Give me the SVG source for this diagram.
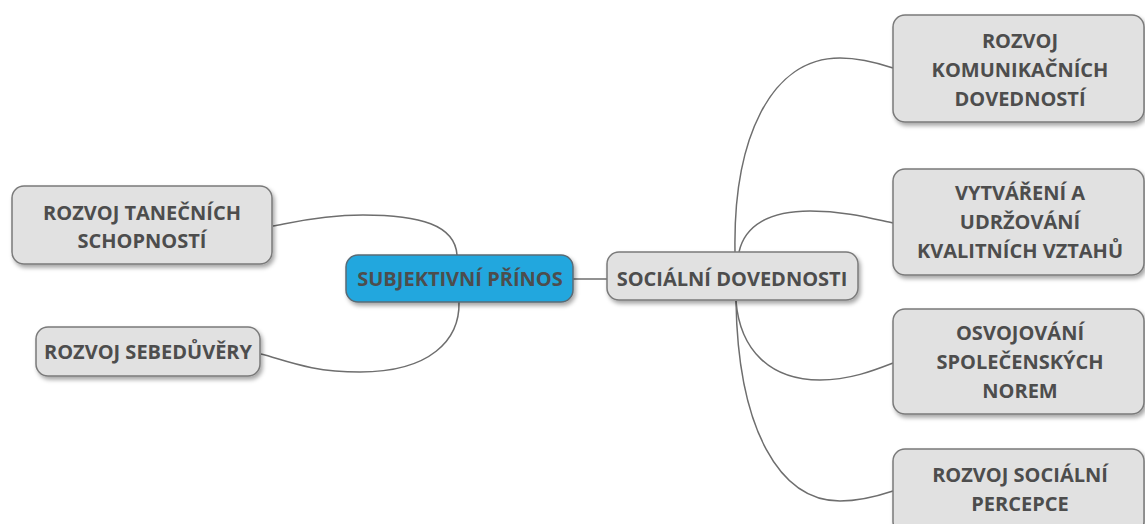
<svg xmlns="http://www.w3.org/2000/svg" width="1145" height="524" viewBox="0 0 1145 524">
<defs>
<filter id="sh" x="-10%" y="-20%" width="130%" height="150%">
<feDropShadow dx="2" dy="3" stdDeviation="2" flood-color="#000" flood-opacity="0.35"/>
</filter>
<style>
.box{fill:#e1e1e1;stroke:#7a7a7a;stroke-width:1.5;filter:url(#sh)}
.main{fill:#22a7de;stroke:#5a6b75;stroke-width:1.5;filter:url(#sh)}
.t{font-family:"Open Sans","Liberation Sans",sans-serif;font-weight:bold;font-size:20px;fill:#4d4d4d;text-anchor:middle}
.c{fill:none;stroke:#6e6e6e;stroke-width:1.5}
</style>
</defs>
<rect width="1145" height="524" fill="#fff"/>
<g id="connectors">
<path class="c" d="M457,255 C455,225 420,215 363,215 C320,215 290,223 273,226"/>
<path class="c" d="M459,302 C460,340 430,372 360,372 C310,372 285,360 261,354"/>
<path class="c" d="M573,279 L607,279"/>
<path class="c" d="M735,252 C733,140 770,58 840,58 C860,58 878,63 893,68"/>
<path class="c" d="M739,252 C745,225 770,211 810,211 C845,211 870,218 893,223"/>
<path class="c" d="M736,301 C740,350 770,380 820,380 C850,380 875,370 893,363"/>
<path class="c" d="M736,301 C738,430 780,501 840,501 C860,501 878,496 893,491"/>
</g>
<g id="n-tanec">
<rect class="box" x="12" y="186" width="260" height="78" rx="12"/>
<text class="t" x="142" y="220">ROZVOJ TANEČNÍCH</text>
<text class="t" x="142" y="248">SCHOPNOSTÍ</text>
</g>
<g id="n-sebe">
<rect class="box" x="36" y="327" width="224" height="49" rx="12"/>
<text class="t" x="148" y="359">ROZVOJ SEBEDŮVĚRY</text>
</g>
<g id="n-main">
<rect class="main" x="346" y="255" width="227" height="47" rx="12"/>
<text class="t" x="460" y="286">SUBJEKTIVNÍ PŘÍNOS</text>
</g>
<g id="n-social">
<rect class="box" x="607" y="252" width="251" height="48" rx="12"/>
<text class="t" x="732" y="286">SOCIÁLNÍ DOVEDNOSTI</text>
</g>
<g id="n-komun">
<rect class="box" x="893" y="15" width="251" height="107" rx="12"/>
<text class="t" x="1020" y="48">ROZVOJ</text>
<text class="t" x="1020" y="77">KOMUNIKAČNÍCH</text>
<text class="t" x="1020" y="106">DOVEDNOSTÍ</text>
</g>
<g id="n-vztahy">
<rect class="box" x="893" y="169" width="251" height="106" rx="12"/>
<text class="t" x="1020" y="200">VYTVÁŘENÍ A</text>
<text class="t" x="1020" y="229">UDRŽOVÁNÍ</text>
<text class="t" x="1020" y="258">KVALITNÍCH VZTAHŮ</text>
</g>
<g id="n-normy">
<rect class="box" x="893" y="309" width="251" height="105" rx="12"/>
<text class="t" x="1020" y="340">OSVOJOVÁNÍ</text>
<text class="t" x="1020" y="369">SPOLEČENSKÝCH</text>
<text class="t" x="1020" y="398">NOREM</text>
</g>
<g id="n-percepce">
<rect class="box" x="893" y="449" width="251" height="85" rx="12"/>
<text class="t" x="1020" y="482">ROZVOJ SOCIÁLNÍ</text>
<text class="t" x="1020" y="511">PERCEPCE</text>
</g>
</svg>
